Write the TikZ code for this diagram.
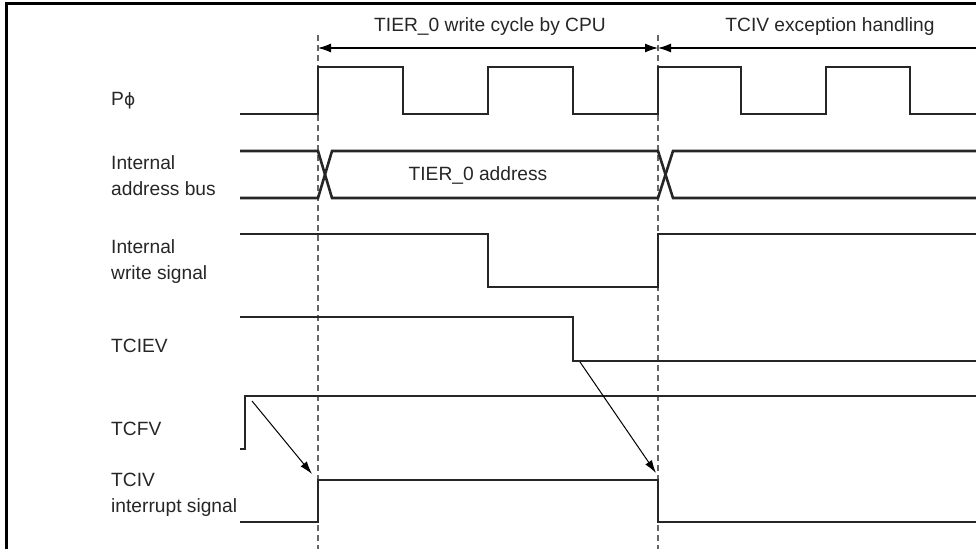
\documentclass[tikz,border=0pt]{standalone}
\usepackage{fontspec}
\setmainfont{Liberation Sans}
\newfontfamily\phifont{DejaVu Sans}
\usetikzlibrary{arrows.meta, positioning}

\begin{document}
\begin{tikzpicture}[
  x=1pt, y=-1pt,
  every node/.style={font=\fontsize{19.2}{26}\selectfont, align=left, inner sep=0pt, text=black!85},
  signame/.style={anchor=west},
  wave/.style={line width=2.6pt, black!85},
  guide/.style={line width=1.2pt, black!60, dash pattern=on 6pt off 4pt},
  span/.style={line width=1.1pt, {Latex[length=13pt,width=9pt]}-{Latex[length=13pt,width=9pt]}},
  spanleft/.style={line width=1.1pt, {Latex[length=13pt,width=9pt]}-},
  arrow/.style={line width=1pt, -{Latex[length=13pt,width=8pt]}}
]
\useasboundingbox (0,0) rectangle (976,549);

% Frame
\draw[line width=3pt] (6,549) -- (6,3) -- (976,3);

% Nodes
\node[signame] (clk) at (111,101) {P{\phifont\fontsize{17}{20}\selectfont ϕ}};
\node[signame] (bus) at (111,176) {Internal\\address bus};
\node[signame] (wr) at (111,262) {Internal\\write signal};
\node[signame] (tciev) at (111,346) {TCIEV};
\node[signame] (tcfv) at (111,429) {TCFV};
\node[signame] (tciv) at (111,495) {TCIV\\interrupt signal};

\node (cpu_cycle) at (490,27) {TIER\_0 write cycle by CPU};
\node (exc_cycle) at (830,27) {TCIV exception handling};
\node (tier_addr) at (478,175) {TIER\_0 address};

% Cycle boundaries
\coordinate (cyc_start) at (318,48);
\coordinate (cyc_end) at (658,48);
\coordinate (exc_end) at (976,48);
\draw[guide] (318,35) -- (318,549);
\draw[guide] (658,35) -- (658,549);
\draw[span] (cyc_start) -- (cyc_end);
\draw[spanleft] (cyc_end) -- (exc_end);

% Waveforms
\draw[wave] (240,114) -- (318,114) -- (318,67) -- (403,67) -- (403,114) -- (488,114) -- (488,67)
  -- (573,67) -- (573,114) -- (658,114) -- (658,67) -- (741,67) -- (741,114) -- (826,114)
  -- (826,67) -- (910,67) -- (910,114) -- (976,114);
\draw[wave] (240,151) -- (318,151) -- (332,198) -- (658,198) -- (673,151) -- (976,151);
\draw[wave] (240,198) -- (318,198) -- (332,151) -- (658,151) -- (673,198) -- (976,198);
\draw[wave] (240,234) -- (488,234) -- (488,287) -- (658,287) -- (658,234) -- (976,234);
\draw[wave] (240,317) -- (573,317) -- (573,361) -- (976,361);
\draw[wave] (240,449) -- (245,449) -- (245,396) -- (976,396);
\draw[wave] (240,522) -- (318,522) -- (318,480) -- (658,480) -- (658,522) -- (976,522);

% Arrows
\coordinate (tcfv_set) at (252,401);
\coordinate (tciv_rise) at (312,474);
\coordinate (tciev_clr) at (580,362);
\coordinate (tciv_fall) at (656,473);
\draw[arrow] (tcfv_set) -- (tciv_rise);
\draw[arrow] (tciev_clr) -- (tciv_fall);

\end{tikzpicture}
\end{document}
